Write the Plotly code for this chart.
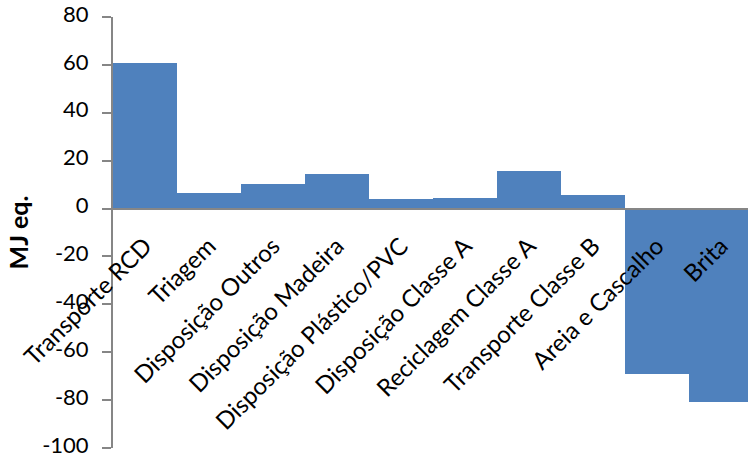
import plotly.graph_objects as go

# Energy balance per process step (MJ eq.)
categories = [
    "Transporte RCD",
    "Triagem",
    "Disposição Outros",
    "Disposição Madeira",
    "Disposição Plástico/PVC",
    "Disposição Classe A",
    "Reciclagem Classe A",
    "Transporte Classe B",
    "Areia e Cascalho",
    "Brita",
]
values = [60.8, 6.5, 10.1, 14.6, 3.8, 4.4, 15.6, 5.8, -68.9, -80.7]

y_min, y_max = -100, 80
y_ticks = list(range(-100, 81, 20))

BAR_COLOR = "#4F81BD"
AXIS_COLOR = "#868686"
FONT = "Lato"

W, H = 748, 458
ML, MR, MT, MB = 113, 0, 17, 10
plot_w = W - ML - MR

fig = go.Figure(
    go.Bar(
        x=list(range(len(categories))),
        y=values,
        marker=dict(color=BAR_COLOR, line=dict(width=0)),
        width=1.0,
    )
)

# category axis sits on the zero line
zero_pos = (0 - y_min) / (y_max - y_min)

fig.update_layout(
    width=W,
    height=H,
    margin=dict(l=ML, r=MR, t=MT, b=MB, pad=0, autoexpand=False),
    paper_bgcolor="white",
    plot_bgcolor="white",
    showlegend=False,
    bargap=0,
    font=dict(family=FONT, size=22, color="black"),
    xaxis=dict(
        range=[-0.5, 9.5 - 5 / 64],
        tickmode="array",
        tickvals=list(range(len(categories))),
        ticktext=categories,
        tickangle=-45,
        ticks="",
        showline=True,
        linecolor=AXIS_COLOR,
        linewidth=2,
        showgrid=False,
        zeroline=False,
        anchor="free",
        position=zero_pos,
        automargin=False,
        tickfont=dict(family=FONT, size=24, color="black"),
        ticklabelstandoff=13,
    ),
    yaxis=dict(
        range=[y_min, y_max],
        tickmode="array",
        tickvals=y_ticks,
        ticktext=[str(v) for v in y_ticks],
        ticks="outside",
        ticklen=9,
        tickwidth=2,
        tickcolor=AXIS_COLOR,
        showline=True,
        linecolor=AXIS_COLOR,
        linewidth=2,
        showgrid=False,
        zeroline=False,
        automargin=False,
        tickfont=dict(family=FONT, size=22, color="black"),
        ticklabelstandoff=9,
        ticklabelshift=-3,
        ticklabeloverflow="allow",
    ),
    annotations=[
        dict(
            text="<b>MJ eq.</b>",
            xref="paper",
            yref="paper",
            x=-(ML - 17) / plot_w,
            y=0.5,
            xanchor="center",
            yanchor="middle",
            textangle=-90,
            showarrow=False,
            font=dict(family=FONT, size=25, color="black"),
        )
    ],
)

fig.write_html("out.html")
